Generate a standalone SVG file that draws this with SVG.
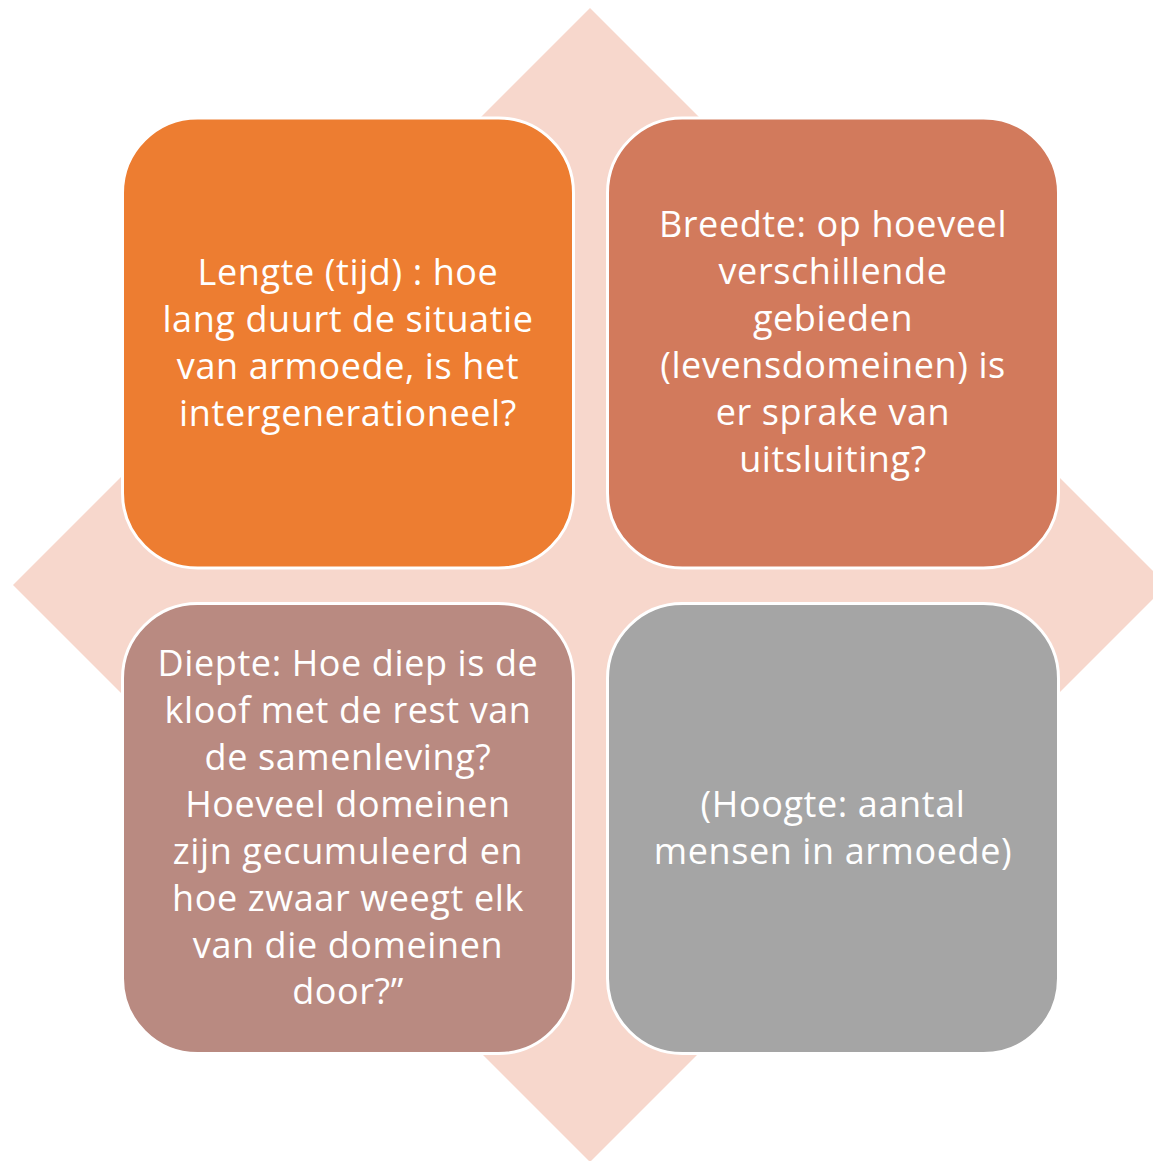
<svg xmlns="http://www.w3.org/2000/svg" width="1153" height="1161" viewBox="0 0 1153 1161">
<style>
.box{stroke:#FFFFFF;stroke-width:3}
.t{font-family:"Open Sans","Noto Sans","Liberation Sans",sans-serif;font-size:36px;letter-spacing:0.6px;fill:#FFFFFF;text-anchor:middle;font-variant-ligatures:none}
</style>
<rect width="1153" height="1161" fill="#FFFFFF"/>
<polygon id="diamond" points="590,8 1167,585 590,1162 13,585" fill="#F7D7CC"/>
<g id="connectors"></g>
<g id="lengte">
<rect class="box" x="122.5" y="118" width="451" height="450" rx="75" ry="75" fill="#ED7D31"/>
<text class="t" x="348" y="285">Lengte (tijd) : hoe</text>
<text class="t" x="348" y="332">lang duurt de situatie</text>
<text class="t" x="348" y="379">van armoede, is het</text>
<text class="t" x="348" y="426">intergenerationeel?</text>
</g>
<g id="breedte">
<rect class="box" x="607.5" y="118" width="451" height="450" rx="75" ry="75" fill="#D27A5C"/>
<text class="t" x="833" y="237">Breedte: op hoeveel</text>
<text class="t" x="833" y="284">verschillende</text>
<text class="t" x="833" y="331">gebieden</text>
<text class="t" x="833" y="378">(levensdomeinen) is</text>
<text class="t" x="833" y="425">er sprake van</text>
<text class="t" x="833" y="472">uitsluiting?</text>
</g>
<g id="diepte">
<rect class="box" x="122.5" y="603.5" width="451" height="450" rx="75" ry="75" fill="#B98A81"/>
<text class="t" x="348" y="676">Diepte: Hoe diep is de</text>
<text class="t" x="348" y="723">kloof met de rest van</text>
<text class="t" x="348" y="770">de samenleving?</text>
<text class="t" x="348" y="817">Hoeveel domeinen</text>
<text class="t" x="348" y="864">zijn gecumuleerd en</text>
<text class="t" x="348" y="911">hoe zwaar weegt elk</text>
<text class="t" x="348" y="958">van die domeinen</text>
<text class="t" x="348" y="1004">door?”</text>
</g>
<g id="hoogte">
<rect class="box" x="607.5" y="603.5" width="451" height="450" rx="75" ry="75" fill="#A5A5A5"/>
<text class="t" x="833" y="817">(Hoogte: aantal</text>
<text class="t" x="833" y="864">mensen in armoede)</text>
</g>
</svg>
